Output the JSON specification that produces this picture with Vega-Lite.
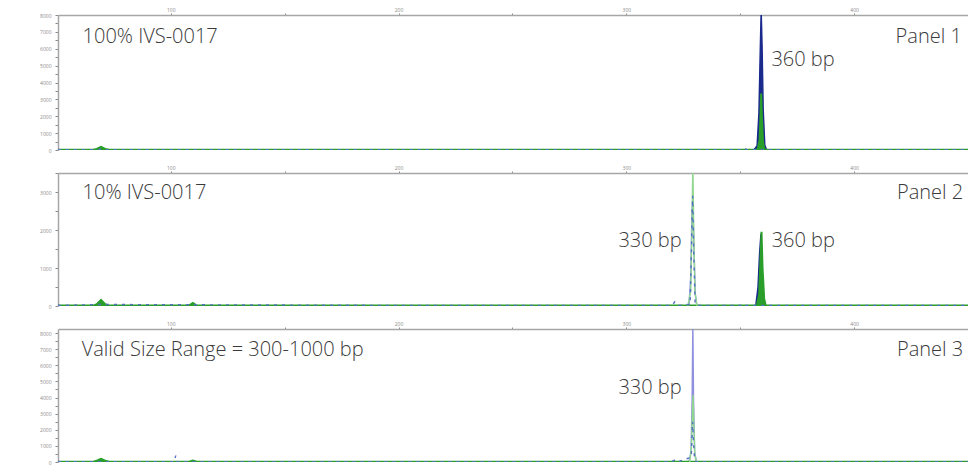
{
  "$schema": "https://vega.github.io/schema/vega-lite/v6.json",
  "padding": 0,
  "background": "white",
  "spacing": 5,
  "config": {
    "view": {"stroke": null},
    "axis": {
      "domainColor": "#a6a6a6",
      "domainWidth": 1.5,
      "tickColor": "#8a8a8a",
      "labelColor": "#8a8a8a",
      "labelFont": "Open Sans",
      "labelFontSize": 5,
      "grid": false,
      "title": null
    },
    "text": {"font": "Open Sans", "fontWeight": 300, "fontSize": 20, "baseline": "alphabetic"}
  },
  "datasets": {
    "trace": [
      {"panel": "Panel 1", "ch": "lavender", "bp": 50.5, "rfu": 0},
      {"panel": "Panel 1", "ch": "lavender", "bp": 450, "rfu": 0},
      {"panel": "Panel 1", "ch": "green", "bp": 50.5, "rfu": 10},
      {"panel": "Panel 1", "ch": "green", "bp": 66, "rfu": 10},
      {"panel": "Panel 1", "ch": "green", "bp": 67.5, "rfu": 60},
      {"panel": "Panel 1", "ch": "green", "bp": 69.4, "rfu": 190},
      {"panel": "Panel 1", "ch": "green", "bp": 71.2, "rfu": 60},
      {"panel": "Panel 1", "ch": "green", "bp": 73, "rfu": 10},
      {"panel": "Panel 1", "ch": "green", "bp": 120, "rfu": 12},
      {"panel": "Panel 1", "ch": "green", "bp": 200, "rfu": 10},
      {"panel": "Panel 1", "ch": "green", "bp": 300, "rfu": 12},
      {"panel": "Panel 1", "ch": "green", "bp": 357, "rfu": 10},
      {"panel": "Panel 1", "ch": "green", "bp": 357.7, "rfu": 60},
      {"panel": "Panel 1", "ch": "green", "bp": 358.5, "rfu": 600},
      {"panel": "Panel 1", "ch": "green", "bp": 358.9, "rfu": 2000},
      {"panel": "Panel 1", "ch": "green", "bp": 359.2, "rfu": 3350},
      {"panel": "Panel 1", "ch": "green", "bp": 359.5, "rfu": 2000},
      {"panel": "Panel 1", "ch": "green", "bp": 360, "rfu": 500},
      {"panel": "Panel 1", "ch": "green", "bp": 360.6, "rfu": 50},
      {"panel": "Panel 1", "ch": "green", "bp": 361.5, "rfu": 10},
      {"panel": "Panel 1", "ch": "green", "bp": 450, "rfu": 10},
      {"panel": "Panel 1", "ch": "blue", "bp": 356, "rfu": 0},
      {"panel": "Panel 1", "ch": "blue", "bp": 357.4, "rfu": 250},
      {"panel": "Panel 1", "ch": "blue", "bp": 358.2, "rfu": 2200},
      {"panel": "Panel 1", "ch": "blue", "bp": 358.8, "rfu": 6000},
      {"panel": "Panel 1", "ch": "blue", "bp": 359.2, "rfu": 8300},
      {"panel": "Panel 1", "ch": "blue", "bp": 359.6, "rfu": 6200},
      {"panel": "Panel 1", "ch": "blue", "bp": 360.1, "rfu": 2400},
      {"panel": "Panel 1", "ch": "blue", "bp": 360.8, "rfu": 300},
      {"panel": "Panel 1", "ch": "blue", "bp": 361.6, "rfu": 0},
      {"panel": "Panel 1", "ch": "steelblue", "bp": 50.5, "rfu": 15},
      {"panel": "Panel 1", "ch": "steelblue", "bp": 68, "rfu": 15},
      {"panel": "Panel 1", "ch": "steelblue", "bp": 69.4, "rfu": 60},
      {"panel": "Panel 1", "ch": "steelblue", "bp": 71, "rfu": 15},
      {"panel": "Panel 1", "ch": "steelblue", "bp": 200, "rfu": 15},
      {"panel": "Panel 1", "ch": "steelblue", "bp": 330, "rfu": 15},
      {"panel": "Panel 1", "ch": "steelblue", "bp": 331, "rfu": 50},
      {"panel": "Panel 1", "ch": "steelblue", "bp": 332, "rfu": 15},
      {"panel": "Panel 1", "ch": "steelblue", "bp": 350, "rfu": 15},
      {"panel": "Panel 1", "ch": "steelblue", "bp": 351.5, "rfu": 120},
      {"panel": "Panel 1", "ch": "steelblue", "bp": 353, "rfu": 15},
      {"panel": "Panel 1", "ch": "steelblue", "bp": 450, "rfu": 15},

      {"panel": "Panel 2", "ch": "green", "bp": 50.5, "rfu": 10},
      {"panel": "Panel 2", "ch": "green", "bp": 66, "rfu": 10},
      {"panel": "Panel 2", "ch": "green", "bp": 67.5, "rfu": 50},
      {"panel": "Panel 2", "ch": "green", "bp": 69.4, "rfu": 160},
      {"panel": "Panel 2", "ch": "green", "bp": 71.2, "rfu": 50},
      {"panel": "Panel 2", "ch": "green", "bp": 73, "rfu": 10},
      {"panel": "Panel 2", "ch": "green", "bp": 108, "rfu": 10},
      {"panel": "Panel 2", "ch": "green", "bp": 109.7, "rfu": 80},
      {"panel": "Panel 2", "ch": "green", "bp": 111.4, "rfu": 10},
      {"panel": "Panel 2", "ch": "green", "bp": 357.3, "rfu": 10},
      {"panel": "Panel 2", "ch": "green", "bp": 358.3, "rfu": 300},
      {"panel": "Panel 2", "ch": "green", "bp": 358.9, "rfu": 1200},
      {"panel": "Panel 2", "ch": "green", "bp": 359.35, "rfu": 1950},
      {"panel": "Panel 2", "ch": "green", "bp": 359.8, "rfu": 1000},
      {"panel": "Panel 2", "ch": "green", "bp": 360.5, "rfu": 200},
      {"panel": "Panel 2", "ch": "green", "bp": 361.2, "rfu": 10},
      {"panel": "Panel 2", "ch": "green", "bp": 450, "rfu": 10},
      {"panel": "Panel 2", "ch": "blue", "bp": 356.8, "rfu": 0},
      {"panel": "Panel 2", "ch": "blue", "bp": 357.8, "rfu": 500},
      {"panel": "Panel 2", "ch": "blue", "bp": 358.5, "rfu": 1400},
      {"panel": "Panel 2", "ch": "blue", "bp": 359.1, "rfu": 1900},
      {"panel": "Panel 2", "ch": "blue", "bp": 359.5, "rfu": 900},
      {"panel": "Panel 2", "ch": "blue", "bp": 360.2, "rfu": 100},
      {"panel": "Panel 2", "ch": "blue", "bp": 360.8, "rfu": 0},
      {"panel": "Panel 2", "ch": "lightgreen", "bp": 327, "rfu": 0},
      {"panel": "Panel 2", "ch": "lightgreen", "bp": 328.3, "rfu": 400},
      {"panel": "Panel 2", "ch": "lightgreen", "bp": 328.8, "rfu": 2000},
      {"panel": "Panel 2", "ch": "lightgreen", "bp": 329.2, "rfu": 3700},
      {"panel": "Panel 2", "ch": "lightgreen", "bp": 329.6, "rfu": 2000},
      {"panel": "Panel 2", "ch": "lightgreen", "bp": 330.1, "rfu": 400},
      {"panel": "Panel 2", "ch": "lightgreen", "bp": 331, "rfu": 0},
      {"panel": "Panel 2", "ch": "lavender", "bp": 50.5, "rfu": 0},
      {"panel": "Panel 2", "ch": "lavender", "bp": 327.5, "rfu": 0},
      {"panel": "Panel 2", "ch": "lavender", "bp": 328.3, "rfu": 800},
      {"panel": "Panel 2", "ch": "lavender", "bp": 328.8, "rfu": 2500},
      {"panel": "Panel 2", "ch": "lavender", "bp": 329.2, "rfu": 2800},
      {"panel": "Panel 2", "ch": "lavender", "bp": 329.7, "rfu": 1500},
      {"panel": "Panel 2", "ch": "lavender", "bp": 330.3, "rfu": 300},
      {"panel": "Panel 2", "ch": "lavender", "bp": 331, "rfu": 0},
      {"panel": "Panel 2", "ch": "lavender", "bp": 450, "rfu": 0},
      {"panel": "Panel 2", "ch": "steelblue", "bp": 50.5, "rfu": 15},
      {"panel": "Panel 2", "ch": "steelblue", "bp": 69.4, "rfu": 40},
      {"panel": "Panel 2", "ch": "steelblue", "bp": 200, "rfu": 15},
      {"panel": "Panel 2", "ch": "steelblue", "bp": 320, "rfu": 15},
      {"panel": "Panel 2", "ch": "steelblue", "bp": 321.3, "rfu": 110},
      {"panel": "Panel 2", "ch": "steelblue", "bp": 322.5, "rfu": 15},
      {"panel": "Panel 2", "ch": "steelblue", "bp": 328, "rfu": 40},
      {"panel": "Panel 2", "ch": "steelblue", "bp": 328.6, "rfu": 1500},
      {"panel": "Panel 2", "ch": "steelblue", "bp": 329.1, "rfu": 2900},
      {"panel": "Panel 2", "ch": "steelblue", "bp": 329.6, "rfu": 1400},
      {"panel": "Panel 2", "ch": "steelblue", "bp": 330.2, "rfu": 80},
      {"panel": "Panel 2", "ch": "steelblue", "bp": 331, "rfu": 15},
      {"panel": "Panel 2", "ch": "steelblue", "bp": 350, "rfu": 15},
      {"panel": "Panel 2", "ch": "steelblue", "bp": 351, "rfu": 60},
      {"panel": "Panel 2", "ch": "steelblue", "bp": 352, "rfu": 15},
      {"panel": "Panel 2", "ch": "steelblue", "bp": 450, "rfu": 15},

      {"panel": "Panel 3", "ch": "green", "bp": 50.5, "rfu": 15},
      {"panel": "Panel 3", "ch": "green", "bp": 66, "rfu": 15},
      {"panel": "Panel 3", "ch": "green", "bp": 67.5, "rfu": 80},
      {"panel": "Panel 3", "ch": "green", "bp": 69.4, "rfu": 200},
      {"panel": "Panel 3", "ch": "green", "bp": 71.2, "rfu": 80},
      {"panel": "Panel 3", "ch": "green", "bp": 73, "rfu": 15},
      {"panel": "Panel 3", "ch": "green", "bp": 108, "rfu": 15},
      {"panel": "Panel 3", "ch": "green", "bp": 109.7, "rfu": 90},
      {"panel": "Panel 3", "ch": "green", "bp": 111.4, "rfu": 15},
      {"panel": "Panel 3", "ch": "green", "bp": 450, "rfu": 15},
      {"panel": "Panel 3", "ch": "lightgreen", "bp": 327.8, "rfu": 0},
      {"panel": "Panel 3", "ch": "lightgreen", "bp": 328.6, "rfu": 1000},
      {"panel": "Panel 3", "ch": "lightgreen", "bp": 329.0, "rfu": 3000},
      {"panel": "Panel 3", "ch": "lightgreen", "bp": 329.3, "rfu": 4150},
      {"panel": "Panel 3", "ch": "lightgreen", "bp": 329.6, "rfu": 2500},
      {"panel": "Panel 3", "ch": "lightgreen", "bp": 330.1, "rfu": 400},
      {"panel": "Panel 3", "ch": "lightgreen", "bp": 330.8, "rfu": 0},
      {"panel": "Panel 3", "ch": "lavender", "bp": 50.5, "rfu": 0},
      {"panel": "Panel 3", "ch": "lavender", "bp": 327.5, "rfu": 0},
      {"panel": "Panel 3", "ch": "lavender", "bp": 328.4, "rfu": 600},
      {"panel": "Panel 3", "ch": "lavender", "bp": 328.9, "rfu": 4000},
      {"panel": "Panel 3", "ch": "lavender", "bp": 329.2, "rfu": 8500},
      {"panel": "Panel 3", "ch": "lavender", "bp": 329.5, "rfu": 4000},
      {"panel": "Panel 3", "ch": "lavender", "bp": 330, "rfu": 600},
      {"panel": "Panel 3", "ch": "lavender", "bp": 330.8, "rfu": 0},
      {"panel": "Panel 3", "ch": "lavender", "bp": 450, "rfu": 0},
      {"panel": "Panel 3", "ch": "steelblue", "bp": 50.5, "rfu": 20},
      {"panel": "Panel 3", "ch": "steelblue", "bp": 101.5, "rfu": 20},
      {"panel": "Panel 3", "ch": "steelblue", "bp": 102.2, "rfu": 400},
      {"panel": "Panel 3", "ch": "steelblue", "bp": 102.8, "rfu": 20},
      {"panel": "Panel 3", "ch": "steelblue", "bp": 320, "rfu": 20},
      {"panel": "Panel 3", "ch": "steelblue", "bp": 321.5, "rfu": 150},
      {"panel": "Panel 3", "ch": "steelblue", "bp": 322.8, "rfu": 20},
      {"panel": "Panel 3", "ch": "steelblue", "bp": 328.5, "rfu": 300},
      {"panel": "Panel 3", "ch": "steelblue", "bp": 329.1, "rfu": 2500},
      {"panel": "Panel 3", "ch": "steelblue", "bp": 329.5, "rfu": 1200},
      {"panel": "Panel 3", "ch": "steelblue", "bp": 330, "rfu": 100},
      {"panel": "Panel 3", "ch": "steelblue", "bp": 330.6, "rfu": 20},
      {"panel": "Panel 3", "ch": "steelblue", "bp": 450, "rfu": 20}
    ],
    "labels": [
      {"panel": "Panel 1", "text": "100% IVS-0017", "bp": 61.3, "rfu": 6340},
      {"panel": "Panel 1", "text": "Panel 1", "bp": 447.3, "rfu": 6340},
      {"panel": "Panel 1", "text": "360 bp", "bp": 363.7, "rfu": 5000},
      {"panel": "Panel 2", "text": "10% IVS-0017", "bp": 61.3, "rfu": 2808},
      {"panel": "Panel 2", "text": "Panel 2", "bp": 447.9, "rfu": 2808},
      {"panel": "Panel 2", "text": "330 bp", "bp": 324.3, "rfu": 1560},
      {"panel": "Panel 2", "text": "360 bp", "bp": 363.8, "rfu": 1560},
      {"panel": "Panel 3", "text": "Valid Size Range = 300-1000 bp", "bp": 60.9, "rfu": 6575},
      {"panel": "Panel 3", "text": "Panel 3", "bp": 447.9, "rfu": 6575},
      {"panel": "Panel 3", "text": "330 bp", "bp": 324.3, "rfu": 4218}
    ]
  },
  "vconcat": [
    {
      "width": 910,
      "height": 135,
      "encoding": {
        "x": {"field": "bp", "type": "quantitative", "scale": {"domain": [50.5, 450], "nice": false, "zero": false},
          "axis": {"orient": "top", "values": [100, 150, 200, 250, 300, 350, 400], "labelExpr": "datum.value % 100 === 0 ? datum.label : ''", "tickSize": 2, "labelPadding": 1, "minExtent": 15, "maxExtent": 15}},
        "y": {"field": "rfu", "type": "quantitative", "stack": null, "scale": {"domain": [0, 8000], "nice": false},
          "axis": {"values": [0, 500, 1000, 1500, 2000, 2500, 3000, 3500, 4000, 4500, 5000, 5500, 6000, 6500, 7000, 7500, 8000], "format": "d", "labelExpr": "datum.value % 1000 === 0 ? datum.label : ''", "tickSize": 3, "labelPadding": 4, "minExtent": 58, "maxExtent": 58}},
        "color": {"field": "ch", "type": "nominal", "legend": null, "scale": {"domain": ["blue", "green", "lavender", "lightgreen", "steelblue"], "range": ["#1a2a8c", "#2a9e2a", "#8f8fe0", "#8fd68f", "#5470c0"]}}
      },
      "layer": [
        {"data": {"name": "trace"}, "transform": [{"filter": "datum.panel === 'Panel 1' && datum.ch === 'lavender'"}], "mark": {"type": "line", "clip": true, "strokeWidth": 1.4}},
        {"data": {"name": "trace"}, "transform": [{"filter": "datum.panel === 'Panel 1' && datum.ch === 'blue'"}], "mark": {"type": "area", "clip": true}},
        {"data": {"name": "trace"}, "transform": [{"filter": "datum.panel === 'Panel 1' && datum.ch === 'blue'"}], "mark": {"type": "line", "clip": true, "strokeWidth": 1.4}},
        {"data": {"name": "trace"}, "transform": [{"filter": "datum.panel === 'Panel 1' && datum.ch === 'green'"}], "mark": {"type": "area", "clip": true}},
        {"data": {"name": "trace"}, "transform": [{"filter": "datum.panel === 'Panel 1' && datum.ch === 'green'"}], "mark": {"type": "line", "clip": true, "strokeWidth": 2}},
        {"data": {"name": "trace"}, "transform": [{"filter": "datum.panel === 'Panel 1' && datum.ch === 'lightgreen'"}], "mark": {"type": "line", "clip": true, "strokeWidth": 1.4}},
        {"data": {"name": "trace"}, "transform": [{"filter": "datum.panel === 'Panel 1' && datum.ch === 'steelblue'"}], "mark": {"type": "line", "clip": true, "strokeWidth": 1.4, "strokeDash": [3, 5]}},
        {"data": {"name": "labels"}, "transform": [{"filter": "datum.panel === 'Panel 1' && datum.text !== 'Panel 1'"}],
          "mark": {"type": "text", "align": "left"}, "encoding": {"text": {"field": "text"}, "color": {"value": "#3a3a3a"}}},
        {"data": {"name": "labels"}, "transform": [{"filter": "datum.panel === 'Panel 1' && datum.text === 'Panel 1'"}],
          "mark": {"type": "text", "align": "right"}, "encoding": {"text": {"field": "text"}, "color": {"value": "#3a3a3a"}}}
      ]
    },
    {
      "width": 910,
      "height": 133,
      "encoding": {
        "x": {"field": "bp", "type": "quantitative", "scale": {"domain": [50.5, 450], "nice": false, "zero": false},
          "axis": {"orient": "top", "values": [100, 150, 200, 250, 300, 350, 400], "labelExpr": "datum.value % 100 === 0 ? datum.label : ''", "tickSize": 2, "labelPadding": 1, "minExtent": 15, "maxExtent": 15}},
        "y": {"field": "rfu", "type": "quantitative", "stack": null, "scale": {"domain": [0, 3500], "nice": false},
          "axis": {"values": [0, 500, 1000, 1500, 2000, 2500, 3000, 3500], "format": "d", "labelExpr": "datum.value % 1000 === 0 ? datum.label : ''", "tickSize": 3, "labelPadding": 4, "minExtent": 58, "maxExtent": 58}},
        "color": {"field": "ch", "type": "nominal", "legend": null, "scale": {"domain": ["blue", "green", "lavender", "lightgreen", "steelblue"], "range": ["#1a2a8c", "#2a9e2a", "#8f8fe0", "#8fd68f", "#5470c0"]}}
      },
      "layer": [
        {"data": {"name": "trace"}, "transform": [{"filter": "datum.panel === 'Panel 2' && datum.ch === 'lavender'"}], "mark": {"type": "line", "clip": true, "strokeWidth": 1.4}},
        {"data": {"name": "trace"}, "transform": [{"filter": "datum.panel === 'Panel 2' && datum.ch === 'blue'"}], "mark": {"type": "area", "clip": true}},
        {"data": {"name": "trace"}, "transform": [{"filter": "datum.panel === 'Panel 2' && datum.ch === 'blue'"}], "mark": {"type": "line", "clip": true, "strokeWidth": 1.4}},
        {"data": {"name": "trace"}, "transform": [{"filter": "datum.panel === 'Panel 2' && datum.ch === 'green'"}], "mark": {"type": "area", "clip": true}},
        {"data": {"name": "trace"}, "transform": [{"filter": "datum.panel === 'Panel 2' && datum.ch === 'green'"}], "mark": {"type": "line", "clip": true, "strokeWidth": 2}},
        {"data": {"name": "trace"}, "transform": [{"filter": "datum.panel === 'Panel 2' && datum.ch === 'lightgreen'"}], "mark": {"type": "line", "clip": true, "strokeWidth": 1.4}},
        {"data": {"name": "trace"}, "transform": [{"filter": "datum.panel === 'Panel 2' && datum.ch === 'steelblue'"}], "mark": {"type": "line", "clip": true, "strokeWidth": 1.4, "strokeDash": [3, 5]}},
        {"data": {"name": "labels"}, "transform": [{"filter": "datum.panel === 'Panel 2' && datum.text !== 'Panel 2' && datum.text !== '330 bp'"}],
          "mark": {"type": "text", "align": "left"}, "encoding": {"text": {"field": "text"}, "color": {"value": "#3a3a3a"}}},
        {"data": {"name": "labels"}, "transform": [{"filter": "datum.panel === 'Panel 2' && (datum.text === 'Panel 2' || datum.text === '330 bp')"}],
          "mark": {"type": "text", "align": "right"}, "encoding": {"text": {"field": "text"}, "color": {"value": "#3a3a3a"}}}
      ]
    },
    {
      "width": 910,
      "height": 133,
      "encoding": {
        "x": {"field": "bp", "type": "quantitative", "scale": {"domain": [50.5, 450], "nice": false, "zero": false},
          "axis": {"orient": "top", "values": [100, 150, 200, 250, 300, 350, 400], "labelExpr": "datum.value % 100 === 0 ? datum.label : ''", "tickSize": 2, "labelPadding": 1, "minExtent": 15, "maxExtent": 15}},
        "y": {"field": "rfu", "type": "quantitative", "stack": null, "scale": {"domain": [0, 8250], "nice": false},
          "axis": {"values": [0, 500, 1000, 1500, 2000, 2500, 3000, 3500, 4000, 4500, 5000, 5500, 6000, 6500, 7000, 7500, 8000], "format": "d", "labelExpr": "datum.value % 1000 === 0 ? datum.label : ''", "tickSize": 3, "labelPadding": 4, "minExtent": 58, "maxExtent": 58}},
        "color": {"field": "ch", "type": "nominal", "legend": null, "scale": {"domain": ["blue", "green", "lavender", "lightgreen", "steelblue"], "range": ["#1a2a8c", "#2a9e2a", "#8f8fe0", "#8fd68f", "#5470c0"]}}
      },
      "layer": [
        {"data": {"name": "trace"}, "transform": [{"filter": "datum.panel === 'Panel 3' && datum.ch === 'lavender'"}], "mark": {"type": "line", "clip": true, "strokeWidth": 1.4}},
        {"data": {"name": "trace"}, "transform": [{"filter": "datum.panel === 'Panel 3' && datum.ch === 'blue'"}], "mark": {"type": "area", "clip": true}},
        {"data": {"name": "trace"}, "transform": [{"filter": "datum.panel === 'Panel 3' && datum.ch === 'blue'"}], "mark": {"type": "line", "clip": true, "strokeWidth": 1.4}},
        {"data": {"name": "trace"}, "transform": [{"filter": "datum.panel === 'Panel 3' && datum.ch === 'green'"}], "mark": {"type": "area", "clip": true}},
        {"data": {"name": "trace"}, "transform": [{"filter": "datum.panel === 'Panel 3' && datum.ch === 'green'"}], "mark": {"type": "line", "clip": true, "strokeWidth": 2}},
        {"data": {"name": "trace"}, "transform": [{"filter": "datum.panel === 'Panel 3' && datum.ch === 'lightgreen'"}], "mark": {"type": "line", "clip": true, "strokeWidth": 1.4}},
        {"data": {"name": "trace"}, "transform": [{"filter": "datum.panel === 'Panel 3' && datum.ch === 'steelblue'"}], "mark": {"type": "line", "clip": true, "strokeWidth": 1.4, "strokeDash": [3, 5]}},
        {"data": {"name": "labels"}, "transform": [{"filter": "datum.panel === 'Panel 3' && datum.text !== 'Panel 3' && datum.text !== '330 bp'"}],
          "mark": {"type": "text", "align": "left"}, "encoding": {"text": {"field": "text"}, "color": {"value": "#3a3a3a"}}},
        {"data": {"name": "labels"}, "transform": [{"filter": "datum.panel === 'Panel 3' && (datum.text === 'Panel 3' || datum.text === '330 bp')"}],
          "mark": {"type": "text", "align": "right"}, "encoding": {"text": {"field": "text"}, "color": {"value": "#3a3a3a"}}}
      ]
    }
  ]
}
